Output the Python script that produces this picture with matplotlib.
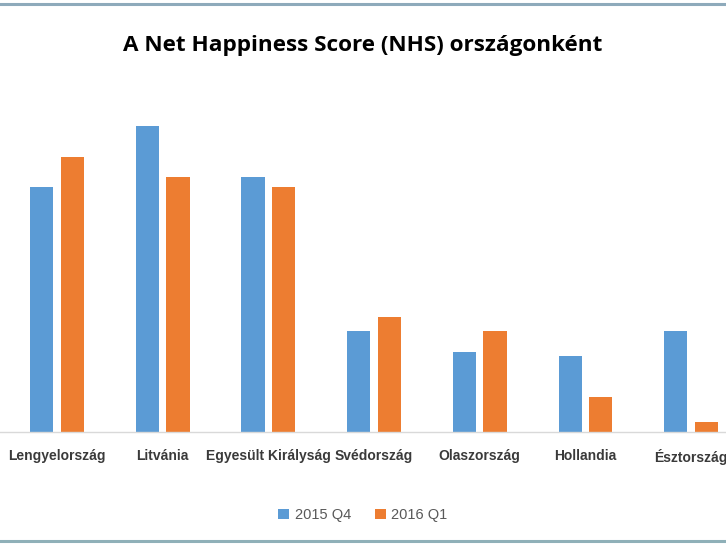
import matplotlib.pyplot as plt
import numpy as np

countries = ["Lengyelország", "Litvánia", "Egyesült Királyság", "Svédország",
             "Olaszország", "Hollandia", "Észtország"]
q4_2015 = [24.5, 30.6, 25.5, 10.1, 8.0, 7.6, 10.1]
q1_2016 = [27.5, 25.5, 24.5, 11.5, 10.1, 3.5, 1.0]
series_labels = ["2015 Q4", "2016 Q1"]

blue = "#5b9bd5"
orange = "#ed7d31"

fig = plt.figure(figsize=(7.26, 5.45), dpi=100)
ax = fig.add_axes([0, 113 / 545, 1, 332 / 545])

x = np.arange(len(countries))
w = 0.22
ax.bar(x - 0.145, q4_2015, w, color=blue, label=series_labels[0])
ax.bar(x + 0.145, q1_2016, w, color=orange, label=series_labels[1])

ax.set_xlim(-0.54, 6.33)
ax.set_ylim(0, 33.2)
ax.set_yticks([])
ax.set_xticks(x)
ax.set_xticklabels(countries, fontsize=10, color="#3a3a3a", fontweight="bold",
                   fontfamily="Liberation Sans")
ax.tick_params(axis="x", length=0, pad=12)
for s in ["top", "left", "right"]:
    ax.spines[s].set_visible(False)
ax.spines["bottom"].set_color("#d9d9d9")
ax.spines["bottom"].set_linewidth(1)

fig.text(0.5, 1 - 46 / 545, "A Net Happiness Score (NHS) országonként",
         ha="center", va="center", fontsize=16.2, fontweight="bold",
         fontfamily="Open Sans", color="#000000")

leg = fig.legend(loc="center", bbox_to_anchor=(0.5, 1 - 515 / 545), ncol=2,
                 frameon=False, handlelength=0.75, handleheight=0.75,
                 handletextpad=0.4, columnspacing=1.6,
                 prop={"family": ["Liberation Sans Narrow", "Liberation Sans"],
                       "size": 10.5})
for t in leg.get_texts():
    t.set_color("#595959")

# frame lines at top and bottom of the cropped chart
fig.add_artist(plt.Line2D([0, 1], [1 - 3.5 / 545] * 2, color="#8eaabb", lw=2.2))
fig.add_artist(plt.Line2D([0, 1], [1 - 540.5 / 545] * 2, color="#8fb0b8", lw=2.2))

fig.savefig("out.png", dpi=100)
